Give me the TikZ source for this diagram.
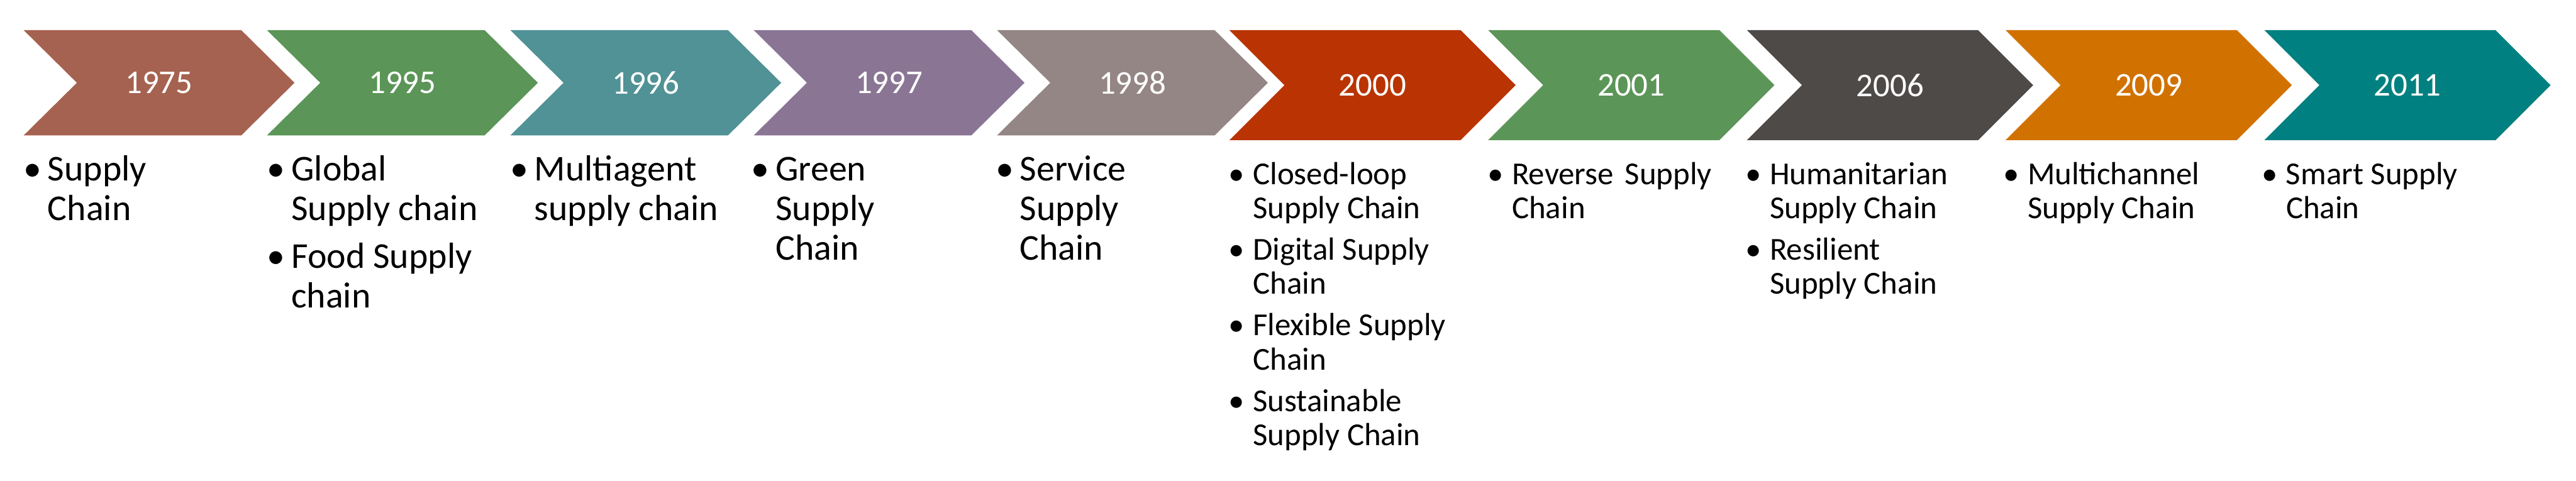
\documentclass[tikz,border=0pt]{standalone}
\usepackage{fontspec}
\setmainfont{Carlito}

\definecolor{c1975}{HTML}{A66250}
\definecolor{c1995}{HTML}{5B9557}
\definecolor{c1996}{HTML}{509296}
\definecolor{c1997}{HTML}{8A7694}
\definecolor{c1998}{HTML}{948684}
\definecolor{c2000}{HTML}{B93402}
\definecolor{c2001}{HTML}{5B9557}
\definecolor{c2006}{HTML}{4E4A48}
\definecolor{c2009}{HTML}{D17100}
\definecolor{c2011}{HTML}{008080}

\newcommand{\bl}{\makebox[4.1mm][l]{\textbullet}}
\newcommand{\fb}{\rule{0pt}{0.8em}\bl}
\newcommand{\ind}{\hspace*{4.1mm}}

\begin{document}
\begin{tikzpicture}
        \tikzstyle{year} = [text=white, inner sep=0pt, font=\fontsize{16}{19}\selectfont]
        \tikzstyle{listA} = [anchor=north west, align=left, inner sep=0pt, font=\fontsize{17.5}{19}\selectfont]
        \tikzstyle{listB} = [anchor=north west, align=left, inner sep=0pt, font=\fontsize{15.4}{16.5}\selectfont]
        \useasboundingbox (0,0) rectangle (43.56,-8.13);
        % first five arrows
        \foreach \i/\yr in {0/1975,1/1995,2/1996,3/1997,4/1998} {
            \pgfmathsetmacro{\x}{0.40+4.115*\i}
            \fill[c\yr] (\x,-0.51) -- ++(3.68,0) -- ++(0.90,-0.89) -- ++(-0.90,-0.89) -- ++(-3.68,0) -- ++(0.90,0.89) -- cycle;
            \node[year] (y\yr) at (\x+2.29,-1.40) {\yr};
        }
        % last five arrows, a bit taller
        \foreach \i/\yr in {0/2000,1/2001,2/2006,3/2009,4/2011} {
            \pgfmathsetmacro{\x}{20.79+4.375*\i}
            \fill[c\yr] (\x,-0.51) -- ++(3.91,0) -- ++(0.93,-0.93) -- ++(-0.93,-0.93) -- ++(-3.91,0) -- ++(0.93,0.93) -- cycle;
            \node[year] (y\yr) at (\x+2.42,-1.44) {\yr};
        }
        \node[listA] (l1975) at (0.39,-2.558) {\fb Supply\\ \ind Chain};
        \node[listA] (l1995) at (4.51,-2.558) {\fb Global\\ \ind Supply chain\\[4pt] \bl Food Supply\\ \ind chain};
        \node[listA] (l1996) at (8.62,-2.558) {\fb Multiagent\\ \ind supply chain};
        \node[listA] (l1997) at (12.70,-2.558) {\fb Green\\ \ind Supply\\ \ind Chain};
        \node[listA] (l1998) at (16.83,-2.558) {\fb Service\\ \ind Supply\\ \ind Chain};
        \node[listB] (l2000) at (20.77,-2.677) {\fb Closed-loop\\ \ind Supply Chain\\[3.4pt] \bl Digital Supply\\ \ind Chain\\[3.4pt] \bl Flexible Supply\\ \ind Chain\\[3.4pt] \bl Sustainable\\ \ind Supply Chain};
        \node[listB] (l2001) at (25.15,-2.677) {\fb Reverse\hspace{0.35em}Supply\\ \ind Chain};
        \node[listB] (l2006) at (29.51,-2.677) {\fb Humanitarian\\ \ind Supply Chain\\[3.4pt] \bl Resilient\\ \ind Supply Chain};
        \node[listB] (l2009) at (33.87,-2.677) {\fb Multichannel\\ \ind Supply Chain};
        \node[listB] (l2011) at (38.24,-2.677) {\fb Smart Supply\\ \ind Chain};
\end{tikzpicture}
\end{document}
